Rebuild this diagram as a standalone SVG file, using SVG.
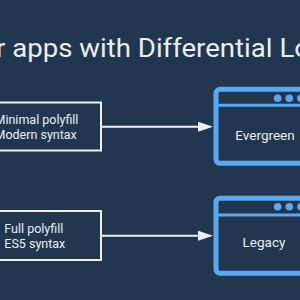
<svg xmlns="http://www.w3.org/2000/svg" width="300" height="300" viewBox="0 0 300 300">
<style>
text{font-family:Roboto,"Liberation Sans",sans-serif;fill:#e9eef4}
.box{fill:none;stroke:#eef2f6;stroke-width:2}
.win{fill:none;stroke:#5aaaf2;stroke-width:5}
.sep{stroke:#5aaaf2;stroke-width:3}
.dot{fill:#5aaaf2}
.lbl{font-size:12.5px}
.wl{font-size:13.5px;text-anchor:middle}
.conn{stroke:#eef2f6;stroke-width:2;fill:none}
</style>
<rect width="300" height="300" fill="#233650"/>
<text id="title" x="-4" y="56.7" font-size="26" textLength="314" lengthAdjust="spacingAndGlyphs">r apps with Differential Lo</text>
<g id="modern">
<rect class="box" x="-60" y="102.5" width="161" height="48"/>
<text class="lbl" x="-5.5" y="124">Minimal polyfill</text>
<text class="lbl" x="-5.5" y="139">Modern syntax</text>
</g>
<g id="es5">
<rect class="box" x="-60" y="211" width="161" height="49"/>
<text class="lbl" x="4.3" y="232.7">Full polyfill</text>
<text class="lbl" x="4.3" y="248">ES5 syntax</text>
</g>
<g id="evergreen">
<rect class="win" x="216" y="89.3" width="120" height="74" rx="4"/>
<line class="sep" x1="216" y1="105.3" x2="310" y2="105.3"/>
<circle class="dot" cx="277.7" cy="98.3" r="3.8"/>
<circle class="dot" cx="289.3" cy="98.3" r="3.8"/>
<circle class="dot" cx="301" cy="98.3" r="3.8"/>
<text class="wl" x="265" y="140">Evergreen</text>
</g>
<g id="legacy">
<rect class="win" x="216" y="198.2" width="120" height="75" rx="4"/>
<line class="sep" x1="216" y1="215" x2="310" y2="215"/>
<circle class="dot" cx="277.7" cy="206.7" r="3.8"/>
<circle class="dot" cx="289.3" cy="206.7" r="3.8"/>
<circle class="dot" cx="301" cy="206.7" r="3.8"/>
<text class="wl" x="264" y="246.5">Legacy</text>
</g>
<g id="connectors">
<path class="conn" d="M101,126.7 H199"/>
<path d="M198,121.7 L213,126.7 L198,131.7 Z" fill="#eef2f6"/>
<path class="conn" d="M101,235.7 H199"/>
<path d="M198,230.7 L213,235.7 L198,240.7 Z" fill="#eef2f6"/>
</g>
</svg>
